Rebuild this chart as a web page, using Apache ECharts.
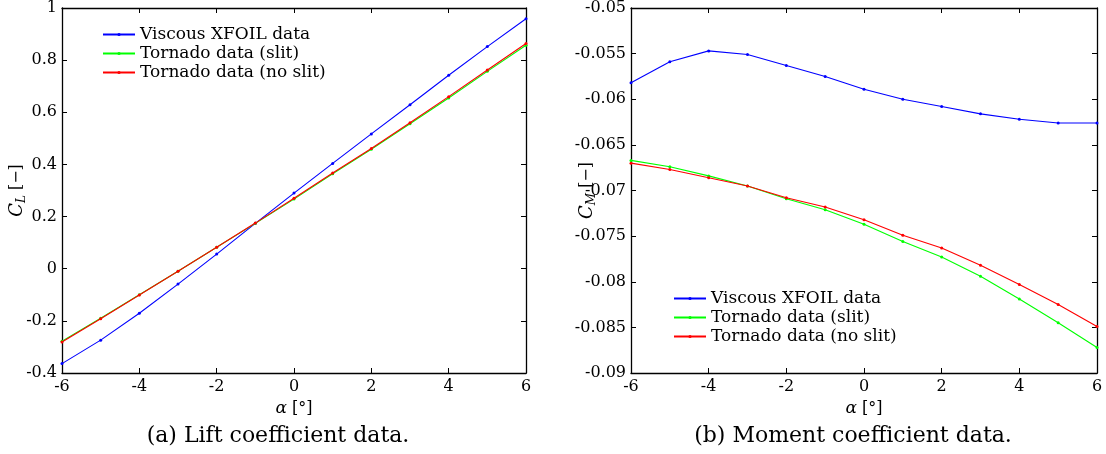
<!DOCTYPE html>
<html>
<head>
<meta charset="utf-8">
<script src="https://cdn.jsdelivr.net/npm/echarts@6/dist/echarts.min.js"></script>
<style>
html,body{margin:0;padding:0;background:#fff;}
#c{width:1106px;height:454px;}
</style>
</head>
<body>
<div id="c"></div>
<script>
// ---- data ----
const alpha = [-6, -5, -4, -3, -2, -1, 0, 1, 2, 3, 4, 5, 6];
const seriesNames = ['Viscous XFOIL data', 'Tornado data (slit)', 'Tornado data (no slit)'];
// Lift coefficient
const clXfoil  = [-0.364, -0.274, -0.171, -0.059, 0.056, 0.174, 0.290, 0.404, 0.517, 0.629, 0.742, 0.852, 0.959];
const clSlit   = [-0.278, -0.190, -0.100, -0.010, 0.082, 0.174, 0.267, 0.364, 0.458, 0.556, 0.655, 0.757, 0.857];
const clNoSlit = [-0.281, -0.192, -0.101, -0.010, 0.082, 0.175, 0.270, 0.367, 0.461, 0.560, 0.660, 0.762, 0.864];
// Moment coefficient
const cmXfoil  = [-0.0582, -0.0559, -0.0547, -0.0551, -0.0563, -0.0575, -0.0589, -0.0600, -0.0608, -0.0616, -0.0622, -0.0626, -0.0626];
const cmSlit   = [-0.0667, -0.0674, -0.0684, -0.0695, -0.0709, -0.0721, -0.0737, -0.0756, -0.0773, -0.0794, -0.0819, -0.0845, -0.0872];
const cmNoSlit = [-0.0670, -0.0677, -0.0686, -0.0695, -0.0708, -0.0718, -0.0732, -0.0749, -0.0763, -0.0782, -0.0803, -0.0825, -0.0849];
// axis ticks
const xTicks = {min: -6, max: 6, interval: 2};
const clTicks = {min: -0.4, max: 1, interval: 0.2};
const cmTicks = {min: -0.09, max: -0.05, interval: 0.005};
const captions = ['(a) Lift coefficient data.', '(b) Moment coefficient data.'];

const colors = ['#0000ff', '#00ff00', '#ff0000'];
const FONT = 'DejaVu Serif';

function pairs(xs, ys) { return xs.map((x, i) => [x, ys[i]]); }

const axisLine = {show: true, onZero: false, lineStyle: {color: '#000', width: 1.3}};
const tickIn = {show: true, inside: true, length: 5, lineStyle: {color: '#000', width: 1}};
const labelStyle = {color: '#000', fontFamily: FONT, fontSize: 16};

function xAxes(gridIndex) {
  return [
    Object.assign({type: 'value', gridIndex, position: 'bottom', axisLine, axisTick: tickIn,
      splitLine: {show: false}, axisLabel: Object.assign({margin: 6}, labelStyle),
      name: '{a|α} [°]', nameLocation: 'middle', nameGap: 27, nameMoveOverlap: false,
      nameTextStyle: {color: '#000', fontFamily: FONT, fontSize: 16,
        rich: {a: {fontStyle: 'italic', fontFamily: FONT, fontSize: 17, color: '#000'}}}}, xTicks),
    Object.assign({type: 'value', gridIndex, position: 'top', axisLine, axisTick: tickIn,
      splitLine: {show: false}, axisLabel: {show: false}}, xTicks)
  ];
}
function yAxes(gridIndex, ticks, sub, gap) {
  return [
    Object.assign({type: 'value', gridIndex, position: 'left', axisLine, axisTick: tickIn,
      splitLine: {show: false}, axisLabel: Object.assign({margin: 5}, labelStyle),
      name: '{c|C}{s|' + sub + '} {n|[−]}', nameLocation: 'middle', nameRotate: 90, nameGap: gap,
      nameMoveOverlap: false,
      nameTextStyle: {color: '#000', fontFamily: FONT, fontSize: 16,
        rich: {
          c: {fontStyle: 'italic', fontFamily: FONT, fontSize: 18, color: '#000', lineHeight: 22, verticalAlign: 'middle'},
          s: {fontStyle: 'italic', fontFamily: FONT, fontSize: 12, color: '#000', lineHeight: 22, verticalAlign: 'bottom'},
          n: {fontFamily: FONT, fontSize: 16, color: '#000', lineHeight: 22, verticalAlign: 'middle'}
        }}}, ticks),
    Object.assign({type: 'value', gridIndex, position: 'right', axisLine, axisTick: tickIn,
      splitLine: {show: false}, axisLabel: {show: false}}, ticks)
  ];
}

function makeSeries(xIdx, yIdx, datasets) {
  return datasets.map((d, i) => ({
    name: seriesNames[i], type: 'line', xAxisIndex: xIdx, yAxisIndex: yIdx,
    data: pairs(alpha, d), symbol: 'circle', symbolSize: 3, showSymbol: true,
    lineStyle: {color: colors[i], width: 1.1}, itemStyle: {color: colors[i]},
    emphasis: {disabled: true}, animation: false, z: 3 + i
  }));
}

const legendCommon = {
  orient: 'vertical', data: seriesNames, itemWidth: 32, itemHeight: 4, itemGap: 0,
  textStyle: {color: '#000', fontFamily: FONT, fontSize: 17, lineHeight: 19},
  backgroundColor: 'rgba(0,0,0,0)', selectedMode: false, padding: 0
};

const option = {
  animation: false,
  backgroundColor: '#fff',
  grid: [
    {left: 62, right: 580, top: 8, bottom: 81},
    {left: 631, right: 9, top: 8, bottom: 81}
  ],
  xAxis: [...xAxes(0), ...xAxes(1)],
  yAxis: [...yAxes(0, clTicks, 'L', 34), ...yAxes(1, cmTicks, 'M', 33)],
  legend: [
    Object.assign({left: 102, top: 25}, legendCommon),
    Object.assign({left: 673, top: 289}, legendCommon)
  ],
  series: [
    ...makeSeries(0, 0, [clXfoil, clSlit, clNoSlit]),
    ...makeSeries(2, 2, [cmXfoil, cmSlit, cmNoSlit])
  ],
  graphic: [
    {type: 'text', x: 278, y: 436, style: {text: captions[0], fill: '#000', font: '22px "DejaVu Serif"', textAlign: 'center', textVerticalAlign: 'middle'}},
    {type: 'text', x: 853, y: 436, style: {text: captions[1], fill: '#000', font: '22px "DejaVu Serif"', textAlign: 'center', textVerticalAlign: 'middle'}}
  ]
};

const chart = echarts.init(document.getElementById('c'), null, {renderer: 'canvas'});
chart.setOption(option);
</script>
</body>
</html>
